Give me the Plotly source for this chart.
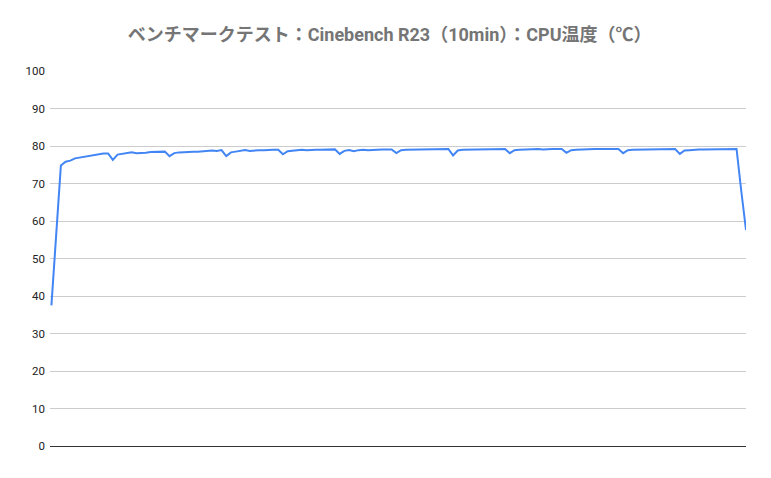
import plotly.graph_objects as go

# Cinebench R23 10分ループ中のCPU温度（℃） - 等間隔サンプル
cpu_temp = [
    37.5, 57.0, 74.8, 75.8, 76.1, 76.7, 76.9, 77.1, 77.4, 77.7,
    77.9, 78.0, 78.0, 76.3, 77.7, 77.9, 78.0, 78.3, 78.1, 78.1,
    78.2, 78.4, 78.5, 78.5, 78.5, 77.3, 78.1, 78.3, 78.4, 78.4,
    78.5, 78.5, 78.6, 78.7, 78.8, 78.7, 78.9, 77.3, 78.3, 78.5,
    78.6, 78.9, 78.7, 78.9, 78.9, 78.9, 79.0, 79.0, 79.0, 77.8,
    78.6, 78.8, 78.8, 79.0, 78.9, 79.0, 79.0, 79.0, 79.1, 79.0,
    79.1, 77.9, 78.7, 78.9, 78.6, 78.9, 79.0, 78.9, 79.0, 79.1,
    79.1, 79.1, 79.1, 78.1, 78.9, 79.0, 79.0, 79.1, 79.0, 79.1,
    79.1, 79.1, 79.2, 79.1, 79.2, 77.5, 78.8, 79.0, 79.0, 79.1,
    79.1, 79.1, 79.2, 79.1, 79.2, 79.2, 79.2, 78.1, 78.9, 79.0,
    79.1, 79.0, 79.1, 79.2, 79.1, 79.2, 79.2, 79.2, 79.2, 78.2,
    78.9, 79.0, 79.1, 79.1, 79.2, 79.2, 79.2, 79.2, 79.2, 79.2,
    79.2, 78.1, 78.9, 79.0, 79.0, 79.1, 79.0, 79.1, 79.2, 79.2,
    79.2, 79.2, 79.2, 77.9, 78.8, 78.9, 79.1, 79.1, 79.1, 79.1,
    79.1, 79.1, 79.1, 79.1, 79.2, 79.2, 68.0, 57.6,
]
sample_idx = list(range(len(cpu_temp)))

y_ticks = [0, 10, 20, 30, 40, 50, 60, 70, 80, 90, 100]

fig = go.Figure(go.Scatter(
    x=sample_idx,
    y=cpu_temp,
    mode="lines",
    line=dict(color="#4285F4", width=2),
    hoverinfo="y",
))

# ページ本体の8pxの余白を見込んでマージンを調整
fig.update_layout(
    width=771,
    height=478,
    paper_bgcolor="white",
    plot_bgcolor="white",
    margin=dict(l=42, r=33, t=63, b=40),
    showlegend=False,
    title=dict(
        text="<b>ベンチマークテスト：Cinebench R23（10min）：CPU温度（℃）</b>",
        x=0.495,
        xanchor="center",
        y=0.9435,
        yanchor="middle",
        font=dict(family="Roboto, Noto Sans CJK JP", size=18, color="#757575"),
    ),
    font=dict(family="Roboto, Noto Sans CJK JP", size=11.5, color="#222222"),
)

fig.update_xaxes(
    range=[-0.3, len(cpu_temp) - 1],
    showticklabels=False,
    showgrid=False,
    zeroline=False,
    showline=True,
    linecolor="#333333",
    linewidth=1,
    ticks="",
)

fig.update_yaxes(
    range=[0, 100],
    tickvals=y_ticks,
    showgrid=True,
    gridcolor="#cccccc",
    gridwidth=1,
    zeroline=False,
    showline=False,
    ticks="",
    ticklabelstandoff=4,
)

fig.write_html("out.html")
